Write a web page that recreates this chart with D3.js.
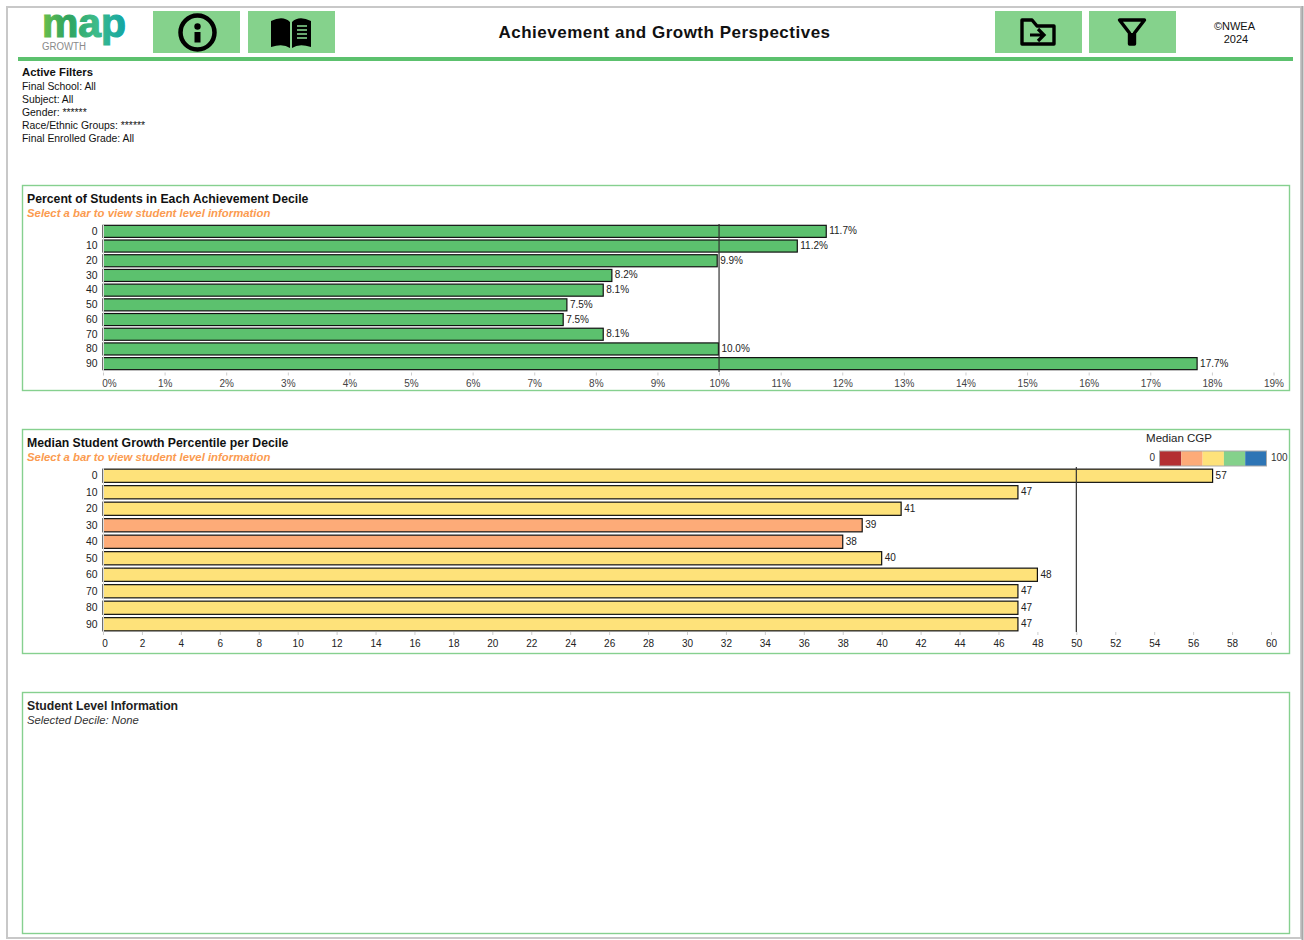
<!DOCTYPE html>
<html>
<head>
<meta charset="utf-8">
<title>Achievement and Growth Perspectives</title>
<script src="https://cdn.jsdelivr.net/npm/d3@7"></script>
<style>
  html, body { margin: 0; padding: 0; background: #fff; }
  svg { display: block; font-family: "Liberation Sans", Arial, sans-serif; }
</style>
</head>
<body>
<script>
// data
var deciles = ["0", "10", "20", "30", "40", "50", "60", "70", "80", "90"]
// bar ends as drawn, they run a little past the printed labels
var percentValues = [11.74, 11.27, 9.97, 8.26, 8.12, 7.53, 7.47, 8.12, 9.99, 17.76]
var percentLabels = ["11.7%", "11.2%", "9.9%", "8.2%", "8.1%", "7.5%", "7.5%", "8.1%", "10.0%", "17.7%"]
var growthValues = [57, 47, 41, 39, 38, 40, 48, 47, 47, 47]
var growthLabels = ["57", "47", "41", "39", "38", "40", "48", "47", "47", "47"]
var percentTicks = d3.range(0, 20)
var growthTicks = d3.range(0, 62, 2)
var filterLines = ["Final School: All", "Subject: All", "Gender: ******", "Race/Ethnic Groups: ******", "Final Enrolled Grade: All"]
var cgpBreaks = [0, 20, 40, 60, 80, 100]
var cgpColors = ["#b42f32", "#fdab78", "#fee27a", "#84d18b", "#2e75b5"]

var GREEN = "#5cc16e"
var BUTTON = "#85d28c"
var BORDER = "#86d08f"
var ORANGE = "#fb9b50"

var svg = d3.select("body").append("svg").attr("width", 1304).attr("height", 940)

// small helper for text
function label(x, y, str, size, opts) {
  opts = opts || {}
  return svg.append("text")
    .attr("x", x).attr("y", y)
    .attr("font-size", size)
    .attr("font-weight", opts.weight || "normal")
    .attr("font-style", opts.style || "normal")
    .attr("text-anchor", opts.anchor || "start")
    .attr("fill", opts.fill || "#111")
    .text(str)
}

// outer frame
svg.append("rect").attr("x", 7).attr("y", 7).attr("width", 1294).attr("height", 931)
  .attr("fill", "#fff").attr("stroke", "#c8c8c8").attr("stroke-width", 2)
svg.append("line").attr("x1", 1302.5).attr("x2", 1302.5).attr("y1", 6).attr("y2", 940)
  .attr("stroke", "#a8a8a8").attr("stroke-width", 2)

// header
var logoGrad = svg.append("defs").append("linearGradient").attr("id", "logoGrad")
logoGrad.append("stop").attr("offset", "0%").attr("stop-color", "#6cc04a")
logoGrad.append("stop").attr("offset", "30%").attr("stop-color", "#2fa35f")
logoGrad.append("stop").attr("offset", "65%").attr("stop-color", "#3dbb8a")
logoGrad.append("stop").attr("offset", "100%").attr("stop-color", "#12a5a5")
label(42, 37, "map", 40, { weight: "bold", fill: "url(#logoGrad)" })
  .attr("stroke", "url(#logoGrad)").attr("stroke-width", 1.2)
  .attr("textLength", 84).attr("lengthAdjust", "spacingAndGlyphs")
label(42, 50, "GROWTH", 10, { fill: "#8a8a8a" })
  .attr("textLength", 44).attr("lengthAdjust", "spacingAndGlyphs")

var buttons = [153, 248, 995, 1089]
svg.selectAll("rect.btn").data(buttons).enter().append("rect")
  .attr("class", "btn")
  .attr("x", d => d).attr("y", 11).attr("width", 87).attr("height", 42)
  .attr("fill", BUTTON)

// info icon
var info = svg.append("g").attr("transform", "translate(197.5,32.5)")
info.append("circle").attr("r", 17).attr("fill", "none").attr("stroke", "#000").attr("stroke-width", 4.5)
info.append("circle").attr("cy", -6).attr("r", 3.2).attr("fill", "#000")
info.append("rect").attr("x", -3).attr("y", -0.5).attr("width", 6).attr("height", 10.5).attr("fill", "#000")

// book icon
var book = svg.append("g").attr("transform", "translate(291,33)")
book.append("path").attr("d", "M-20,-12 Q-8,-18 -1,-11 L-1,15 Q-8,10 -20,14 Z").attr("fill", "#000")
book.append("path").attr("d", "M1,-11 Q8,-18 20,-12 L20,14 Q8,10 1,15 Z").attr("fill", "#000")
book.selectAll("line").data([-7, -3, 1, 5]).enter().append("line")
  .attr("x1", 6).attr("x2", 16).attr("y1", d => d).attr("y2", d => d)
  .attr("stroke", BUTTON).attr("stroke-width", 1.6)

// folder icon
var folder = svg.append("g").attr("transform", "translate(1038,32)")
folder.append("path").attr("d", "M-16,-12 L-6,-12 L-1,-6 L16,-6 L16,12 L-16,12 Z")
  .attr("fill", "none").attr("stroke", "#000").attr("stroke-width", 3.4).attr("stroke-linejoin", "round")
folder.append("path").attr("d", "M-8,3 L5,3 M0,-3 L6,3 L0,9")
  .attr("fill", "none").attr("stroke", "#000").attr("stroke-width", 3.2)

// filter icon
svg.append("path").attr("transform", "translate(1132,32)")
  .attr("d", "M-12.5,-12 L12.5,-12 L2.5,1 L2.5,12 L-2.5,12 L-2.5,1 Z")
  .attr("fill", "none").attr("stroke", "#000").attr("stroke-width", 3.4).attr("stroke-linejoin", "round")
svg.append("rect").attr("x", 1129.5).attr("y", 33).attr("width", 5).attr("height", 12).attr("fill", "#000")

label(664.5, 38, "Achievement and Growth Perspectives", 17, { weight: "bold", anchor: "middle" })
  .attr("letter-spacing", 0.5)
label(1234.5, 30, "©NWEA", 11, { anchor: "middle" })
label(1236, 43, "2024", 11, { anchor: "middle" })

svg.append("rect").attr("x", 18).attr("y", 57).attr("width", 1275).attr("height", 4).attr("fill", GREEN)

// active filters
label(22, 76, "Active Filters", 11.3, { weight: "bold" })
svg.selectAll("text.filter").data(filterLines).enter().append("text")
  .attr("class", "filter")
  .attr("x", 22).attr("y", (d, i) => 89.5 + i * 13.2)
  .attr("font-size", 10.4).attr("fill", "#111")
  .text(d => d)

// panels
var panels = [[185, 205], [429, 224], [692, 241]]
svg.selectAll("rect.panel").data(panels).enter().append("rect")
  .attr("class", "panel")
  .attr("x", 22.5).attr("y", d => d[0] + 0.5).attr("width", 1267).attr("height", d => d[1])
  .attr("fill", "none").attr("stroke", BORDER).attr("stroke-width", 1.4)

label(27, 203, "Percent of Students in Each Achievement Decile", 12.26, { weight: "bold" })
label(27, 217, "Select a bar to view student level information", 11.35, { weight: "bold", style: "italic", fill: ORANGE })
label(27, 447, "Median Student Growth Percentile per Decile", 12.26, { weight: "bold" })
label(27, 461, "Select a bar to view student level information", 11.35, { weight: "bold", style: "italic", fill: ORANGE })
label(27, 710, "Student Level Information", 12.25, { weight: "bold", fill: "#222" })
label(27, 724, "Selected Decile: None", 11.3, { style: "italic", fill: "#333" })

// one horizontal bar chart
function barChart(cfg) {
  var x = d3.scaleLinear().domain(cfg.domain).range(cfg.xRange)
  var y = d3.scaleBand().domain(deciles).range(cfg.yRange).paddingInner(cfg.padding).paddingOuter(cfg.padding / 2)
  var g = svg.append("g")

  g.append("g").selectAll("rect").data(deciles).enter().append("rect")
    .attr("x", x(0))
    .attr("y", d => y(d))
    .attr("width", (d, i) => x(cfg.values[i]) - x(0))
    .attr("height", y.bandwidth())
    .attr("fill", (d, i) => cfg.color(cfg.values[i]))
    .attr("stroke", "#111").attr("stroke-width", 1.2)

  g.append("g").selectAll("text").data(deciles).enter().append("text")
    .attr("x", (d, i) => x(cfg.values[i]) + 3)
    .attr("y", d => y(d) + y.bandwidth() / 2 + 3)
    .attr("font-size", 10).attr("fill", "#222")
    .text((d, i) => cfg.labels[i])

  // decile labels
  var yAxis = g.append("g").attr("transform", "translate(" + x(0) + ",0)")
    .call(d3.axisLeft(y).tickSize(0).tickPadding(5.5))
  yAxis.select(".domain").attr("stroke", "#ddd")
  yAxis.selectAll("text").attr("font-size", 10.4).attr("fill", "#222").attr("font-family", null)

  // reference line
  g.append("line")
    .attr("x1", x(cfg.refValue)).attr("x2", x(cfg.refValue))
    .attr("y1", cfg.refY[0]).attr("y2", cfg.refY[1])
    .attr("stroke", "#333").attr("stroke-width", 1.2)

  var xAxis = g.append("g").attr("transform", "translate(0," + cfg.axisY + ")")
    .call(d3.axisBottom(x).tickValues(cfg.ticks).tickSize(3).tickPadding(cfg.tickPad).tickFormat(cfg.tickFormat))
  xAxis.select(".domain").remove()
  xAxis.selectAll("line").attr("stroke", "#ccc")
  xAxis.selectAll("text").attr("font-size", 10).attr("fill", cfg.tickFill).attr("font-family", null)
    .attr("dx", (d, i) => i == 0 ? cfg.firstDx : 0)
}

barChart({
  values: percentValues,
  labels: percentLabels,
  domain: [0, 19],
  xRange: [103, 1273.5],
  yRange: [224, 371],
  padding: 0.18,
  color: () => GREEN,
  refValue: 10,
  refY: [224, 372],
  axisY: 372.5,
  tickPad: 4.5,
  tickFill: "#444",
  ticks: percentTicks,
  tickFormat: d => d + "%",
  firstDx: 6
})

// color follows the CGP legend bands
var cgpScale = d3.scaleThreshold().domain(cgpBreaks.slice(1, 5)).range(cgpColors)

barChart({
  values: growthValues,
  labels: growthLabels,
  domain: [0, 60],
  xRange: [103, 1271],
  yRange: [467.5, 632.5],
  padding: 0.2,
  color: d => cgpScale(d),
  refValue: 50,
  refY: [467, 632],
  axisY: 632,
  tickPad: 5,
  tickFill: "#222",
  ticks: growthTicks,
  tickFormat: d => String(d),
  firstDx: 1.5
})

// legend
var legendX = d3.scaleLinear().domain([0, 100]).range([1160, 1266.5])
label(1179, 442, "Median CGP", 11.5, { anchor: "middle", fill: "#222" })
label(1155, 461, "0", 10, { anchor: "end", fill: "#333" })
label(1271, 461, "100", 10, { fill: "#333" })
svg.append("g").selectAll("rect").data(cgpColors).enter().append("rect")
  .attr("x", (d, i) => legendX(cgpBreaks[i]))
  .attr("y", 451)
  .attr("width", (d, i) => legendX(cgpBreaks[i + 1]) - legendX(cgpBreaks[i]))
  .attr("height", 15)
  .attr("fill", d => d)
svg.append("rect").attr("x", 1159.5).attr("y", 451).attr("width", 107).attr("height", 15)
  .attr("fill", "none").attr("stroke", "#aaa")
</script>
</body>
</html>
